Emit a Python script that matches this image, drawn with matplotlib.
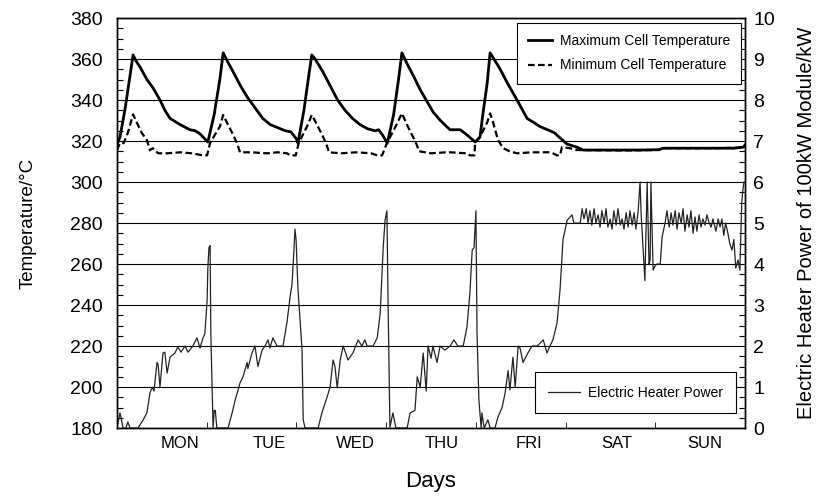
import matplotlib
matplotlib.use('Agg')
import matplotlib.pyplot as plt
from matplotlib.ticker import MultipleLocator

plt.rcParams['font.family'] = ['Liberation Sans', 'DejaVu Sans']

# Day labels (hours from start of the week) and values
day_labels = ['MON', 'TUE', 'WED', 'THU', 'FRI', 'SAT', 'SUN']
day_label_pos = [16.8, 40.6, 63.8, 86.8, 110.3, 133.8, 157.3]
day_bounds = [24, 48, 72, 96, 120, 144]

max_hours = [0, 0.8, 2.1, 3.5, 4.3, 5.1, 6.2, 8.0, 9.6, 11.5, 12.8, 14.2, 16.9, 19.5, 20.9, 22.2, 23.5, 24.3,
             26.0, 27.5, 28.4, 29.5, 31.0, 33.0, 35.0, 37.0, 39.0, 41.0, 43.0, 45.0, 46.5, 48.0, 48.4,
             50.0, 51.3, 52.1, 53.0, 55.0, 57.0, 59.0, 61.0, 63.0, 65.0, 67.0, 69.0, 70.0, 71.0, 72.3,
             74.0, 75.3, 76.2, 77.5, 79.5, 81.1, 83.0, 84.6, 86.5, 88.2, 89.1, 91.8, 93.6, 95.8,
             97.1, 98.0, 99.0, 99.8, 102.5, 104.5, 107.0, 109.7, 111.5, 113.2, 115.8, 117.0, 118.5,
             120.4, 123.0, 124.7, 130, 140, 145, 146, 155, 165, 167.5, 168]
max_temp = [318, 322, 335, 352, 362, 359, 356, 350, 346, 340, 335, 331, 328, 325.5, 325, 323.5, 321, 319.5,
            333, 350, 363, 359, 354, 347, 341, 336, 331, 328, 326.5, 325, 324.5, 321, 319,
            335, 352, 362, 360, 354, 347, 340, 335, 331, 328, 326, 325, 325.5, 323, 319,
            333, 350, 363, 358, 351, 345, 339, 334, 330, 327, 325.5, 325.5, 323, 319.5,
            322, 335, 348, 363, 355, 348, 340, 331, 329, 327, 325, 324, 321.5,
            318.5, 317, 315.6, 315.6, 315.6, 315.8, 316.5, 316.5, 316.5, 317, 318]

min_hours = [0, 0.8, 1.8, 2.9, 4.3, 5.3, 6.6, 8.0, 8.8, 9.6, 11.0, 13.4, 17, 20, 23.0, 24.1, 24.9,
             26.5, 27.5, 28.4, 29.4, 30.8, 32.1, 32.9, 36, 40, 43, 45.5, 46.3, 47.8, 48.6,
             50.8, 52.1, 53.2, 54.6, 55.9, 56.7, 60, 64, 68, 69.6, 70.9, 72.2,
             74.5, 76.2, 77.3, 78.6, 79.9, 80.8, 84, 88, 89.1, 93.6, 94.4, 95.6, 95.8,
             97.1, 99.0, 99.8, 100.6, 101.9, 103.3, 105, 107.0, 111, 115.8, 116.6, 117.7, 118.5,
             119.0, 121.1, 123.0, 135, 145, 146, 160, 167.5, 168]
min_temp = [315.5, 319, 319, 324, 333, 329, 324, 320.5, 315.5, 316.5, 314, 314, 314.5, 314, 313, 313, 319,
            324, 327, 332.7, 329, 324, 319, 314.5, 314.5, 314, 314.5, 314, 313, 313, 319,
            327, 332.7, 329, 324, 319, 314.5, 314, 314.5, 314, 313, 313, 319,
            327, 333.5, 329, 324, 319.5, 315, 314, 314.5, 314.5, 314, 313, 313, 319,
            322, 329, 333.5, 329, 320.5, 316.5, 315, 314, 314.5, 314.5, 314, 313, 313,
            317, 316.5, 315.6, 315.4, 315.6, 316.5, 316.5, 316.8, 318]

power_hours = [0, 0.8, 1.2, 1.6, 2.4, 2.9, 3.5, 5.6, 7.0, 8.0, 8.8, 9.4, 9.9, 10.7, 11.0, 11.5, 12.3, 12.8,
               13.4, 14.2, 15.5, 16.3, 17.1, 18.2, 19.0, 20.3, 21.4, 22.2, 23.0, 23.5, 24.1, 24.3, 24.6,
               24.9, 25.1, 25.7, 26.0, 26.3, 26.7, 29.7,
               30.8, 31.6, 32.4, 32.9, 33.7, 34.8, 35.0, 36.1, 36.9, 37.7, 38.8, 39.6, 40.4, 40.9, 41.7,
               42.8, 44.4, 45.5, 46.3, 46.8, 47.3, 47.6, 47.9, 48.4, 49.5, 49.8, 50.3, 53.8,
               54.8, 56.2, 57.0, 57.8, 58.3, 58.9, 59.7, 60.5, 61.8, 63.1, 64.5, 65.5, 66.3, 66.9, 68.5,
               69.6, 70.4, 71.2, 71.7, 72.2, 72.5, 73.0, 73.8, 74.6, 77.6,
               78.4, 79.7, 80.3, 81.1, 81.9, 82.7, 83.2, 84.0, 84.5, 85.6, 86.4, 87.7, 89.1, 90.1, 91.2,
               92.6, 93.6, 94.4, 95.0, 95.5, 96.0, 96.3, 96.8, 97.4, 97.6, 98.2, 99.2, 99.8, 101.1,
               101.9, 103.0, 103.8, 104.6, 105.1, 105.9, 106.5, 107.3, 107.8, 108.6, 109.9, 111.0, 112.4,
               114.0, 115.0, 115.8, 116.6, 117.7, 118.5, 119.3, 120.4, 121.2, 121.7, 122.2, 123.9, 124.4,
               124.9, 125.5, 126.0, 126.5, 127.0, 127.6, 128.1, 128.7, 129.2, 129.7, 130.3, 130.8, 131.3,
               131.9, 132.4, 132.9, 133.5, 134.0, 134.6, 135.1, 135.6, 136.2, 136.7, 137.2, 137.8, 138.3,
               138.8, 139.4, 139.9, 140.2, 140.7, 141.2, 141.8, 142.3, 142.6, 142.8, 143.4, 143.9, 144.4,
               145.3, 145.8, 146.6, 147.1, 147.7, 148.2, 148.7, 149.3, 149.8, 150.3, 150.9, 151.4, 151.9,
               152.5, 153.0, 153.5, 154.1, 154.6, 155.1, 155.7, 156.2, 156.7, 157.3, 157.8, 158.4, 158.9,
               159.4, 160.2, 160.8, 161.3, 161.8, 162.3, 162.8, 163.4, 163.9, 164.5, 165.0, 165.5, 166.1,
               166.6, 167.1, 167.4, 167.7]
power_kw = [0, 0.37, 0.2, 0, 0, 0.15, 0, 0, 0.2, 0.37, 0.85, 1.0, 0.9, 1.6, 1.55, 1.0, 1.83, 1.85,
            1.34, 1.73, 1.83, 1.98, 1.85, 2.0, 1.85, 2.0, 2.2, 1.95, 2.2, 2.3, 3.1, 3.9, 4.4,
            4.45, 2.3, 0, 0.43, 0.43, 0, 0,
            0.37, 0.68, 0.93, 1.1, 1.25, 1.6, 1.45, 1.83, 2.0, 1.5, 1.9, 2.0, 2.15, 1.95, 2.2,
            2.0, 2.0, 2.6, 3.2, 3.5, 4.3, 4.85, 4.6, 3.4, 1.9, 0.2, 0, 0,
            0.37, 0.76, 1.0, 1.66, 1.5, 0.98, 1.66, 2.0, 1.66, 1.83, 2.15, 2.0, 2.15, 2.0, 2.0,
            2.2, 2.8, 4.4, 5.07, 5.3, 3.1, 0.02, 0.37, 0, 0,
            0.37, 0.43, 1.25, 1.0, 1.83, 0.9, 2.0, 1.7, 2.0, 1.6, 2.0, 1.9, 2.0, 2.15, 2.0,
            2.0, 2.46, 3.3, 4.34, 4.4, 5.3, 2.3, 0.68, 0, 0.37, 0, 0.2, 0, 0,
            0.27, 0.5, 0.85, 1.4, 0.93, 1.73, 1.0, 2.0, 1.95, 1.6, 1.83, 2.0, 2.0,
            2.15, 1.83, 2.0, 2.15, 2.56, 3.37, 4.6, 5.07, 5.15, 5.2, 5.0, 5.0, 5.35,
            5.1, 5.35, 5.0, 5.3, 4.95, 5.35, 5.0, 5.2, 4.9, 5.3, 5.0, 5.35, 4.9,
            5.1, 4.85, 5.3, 4.95, 5.35, 4.95, 5.1, 4.85, 5.25, 4.9, 5.3, 4.95, 5.25,
            4.85, 5.3, 6.0, 5.2, 4.4, 3.6, 6.0, 4.0, 4.1, 6.0, 3.85, 3.95, 4.0,
            4.0, 4.66, 5.0, 5.3, 4.9, 5.25, 4.95, 5.3, 4.85, 5.25, 5.0, 5.35, 4.8,
            5.2, 4.9, 5.3, 4.75, 5.15, 4.8, 5.2, 4.9, 5.1, 4.95, 5.2, 5.0, 4.9,
            5.1, 4.8, 5.1, 4.9, 5.1, 4.7, 5.0, 4.75, 4.5, 4.34, 4.6, 3.9, 4.1,
            3.85, 5.5, 5.8, 6.0]

fig = plt.figure(figsize=(8.17, 4.96), dpi=100)
ax = fig.add_axes([0.1432, 0.137, 0.7688, 0.8267])
ax2 = ax.twinx()

# Temperatures on the left axis
l_max, = ax.plot(max_hours, max_temp, color='black', lw=2.0, label='Maximum Cell Temperature')
l_min, = ax.plot(min_hours, min_temp, color='black', lw=1.6, ls=(0, (3, 1.5)),
                 label='Minimum Cell Temperature')
ax.set_xlim(0, 168)
ax.set_ylim(180, 380)
ax.yaxis.set_major_locator(MultipleLocator(20))
ax.yaxis.set_minor_locator(MultipleLocator(5))
ax.grid(axis='y', color='black', lw=0.8)
ax.set_axisbelow(True)
ax.set_xticks(day_label_pos)
ax.set_xticklabels(day_labels)
ax.set_xticks(day_bounds, minor=True)
ax.tick_params(axis='x', which='major', length=0, labelsize=12, pad=6)
ax.tick_params(axis='x', which='minor', direction='in', length=4)
ax.tick_params(axis='y', which='major', direction='in', length=0, labelsize=14, pad=10)
ax.tick_params(axis='y', which='minor', direction='in', length=4, width=0.8)
ax.set_xlabel('Days', fontsize=16, labelpad=14)
ax.set_ylabel('Temperature/°C', fontsize=13.5, labelpad=24)

# Heater power on the right axis
l_pow, = ax2.plot(power_hours, power_kw, color='#222222', lw=0.9, label='Electric Heater Power')
ax2.set_ylim(0, 10)
ax2.yaxis.set_major_locator(MultipleLocator(1))
ax2.yaxis.set_minor_locator(MultipleLocator(0.25))
ax2.tick_params(axis='y', which='major', direction='in', length=0, labelsize=14, pad=6)
ax2.tick_params(axis='y', which='minor', direction='in', length=4, width=0.8)
ax2.set_ylabel('Electric Heater Power of 100kW Module/kW', fontsize=14.5, labelpad=16)

for a in (ax, ax2):
    for s in a.spines.values():
        s.set_linewidth(1.0)

leg1 = ax2.legend(handles=[l_max, l_min], loc='upper right', bbox_to_anchor=(0.994, 0.988),
                  borderaxespad=0, fontsize=10, fancybox=False, edgecolor='black',
                  framealpha=1, handlelength=1.7, handletextpad=0.6, borderpad=0.8,
                  labelspacing=0.75)
leg1.get_frame().set_linewidth(0.8)
ax2.add_artist(leg1)
leg2 = ax2.legend(handles=[l_pow], loc='lower right', bbox_to_anchor=(0.986, 0.037),
                  borderaxespad=0, fontsize=10, fancybox=False, edgecolor='black',
                  framealpha=1, handlelength=2.3, borderpad=0.95, handletextpad=0.6)
leg2.get_frame().set_linewidth(0.8)

fig.savefig('out.png', dpi=100)
